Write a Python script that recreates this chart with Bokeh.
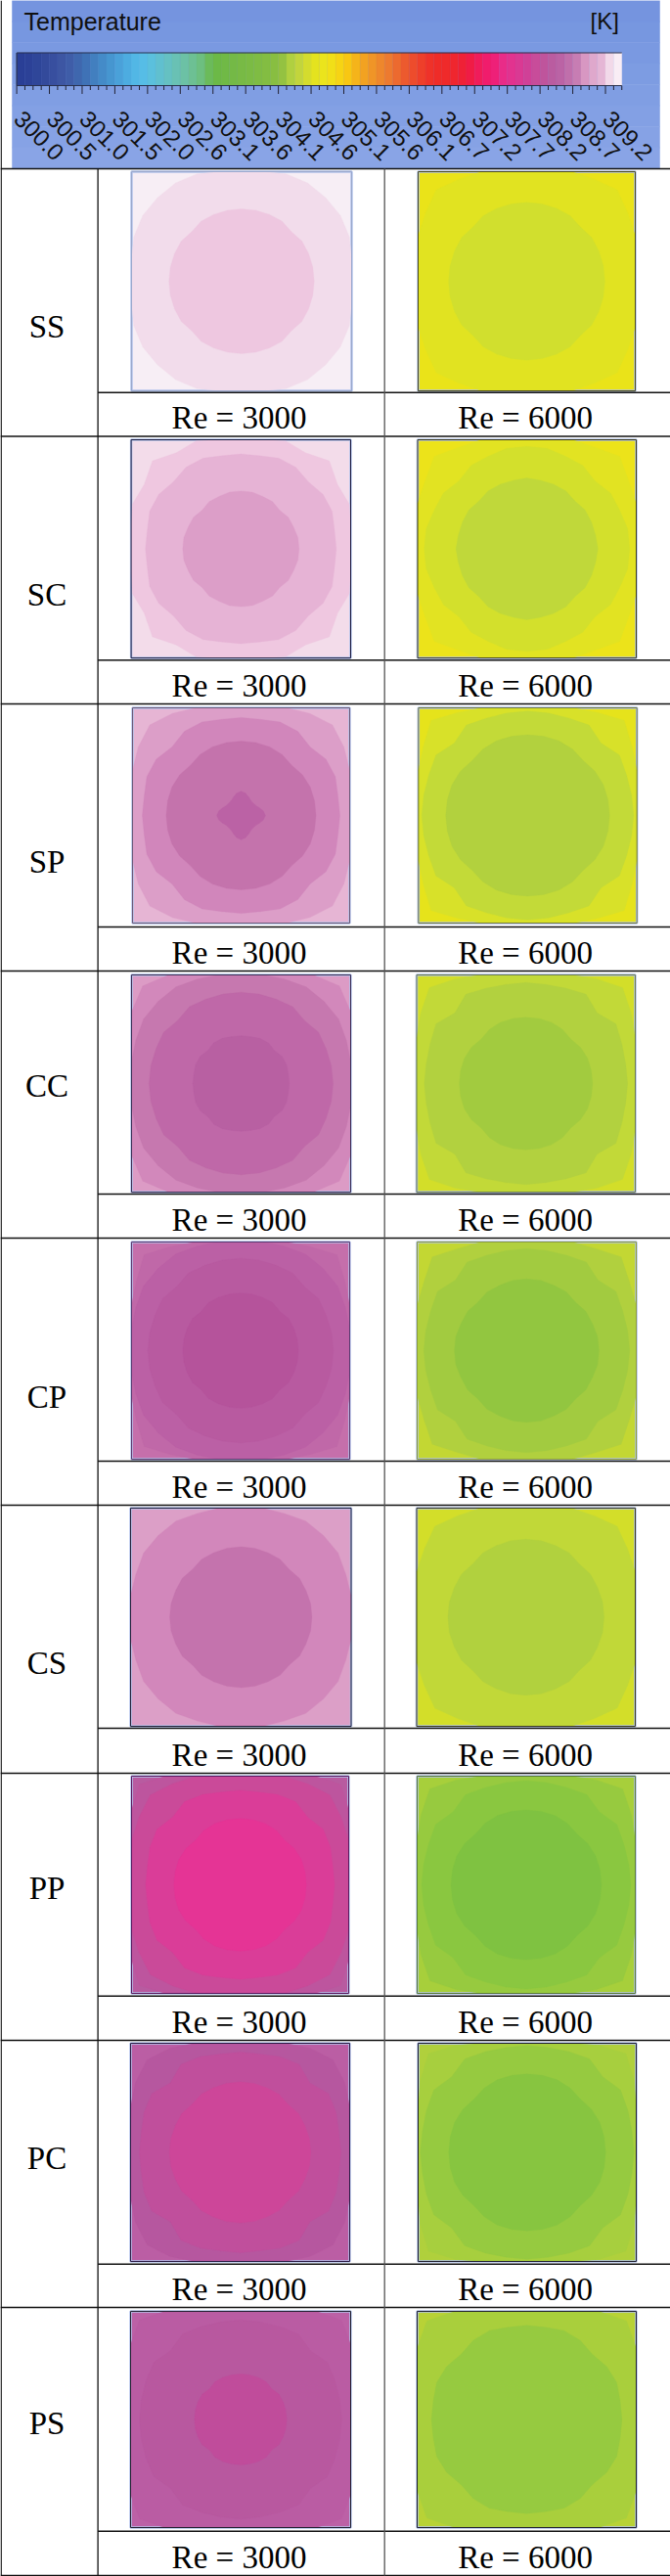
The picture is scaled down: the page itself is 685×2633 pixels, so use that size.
import numpy as np
from bokeh.plotting import figure
from bokeh.core.properties import value
from bokeh.embed import file_html
from bokeh.resources import INLINE

# ---------- colour scale ----------
TITLE = "Temperature"
UNIT = "[K]"
TICK_LABELS = ["300.0","300.5","301.0","301.5","302.0","302.6","303.1","303.6","304.1","304.6",
               "305.1","305.6","306.1","306.7","307.2","307.7","308.2","308.7","309.2"]
BAR_COLORS = ["#2a3f96","#2c4197","#2f4699","#334a9b","#384f9f","#3d56a3","#3f5da8","#3f67ae","#3f72b6","#427fbf",
              "#448bc8","#4696d0","#4aa1d9","#4dace0","#52b7e5","#56bde6","#5bc0dd","#60c0cf","#65c1c2","#69c1b4",
              "#6cc1a5","#6dc094","#6dbf80","#6bbb5a","#6cb947","#70b946","#74b946","#78ba45","#7bbb44","#7fbc43",
              "#83bd42","#88be41","#94c241","#b0d040","#c2d53c","#d4dc2e","#e4e31f","#ebe41c","#f1df18","#f6d414",
              "#f8c713","#f5b41a","#f2a221","#f09527","#ee872c","#ed7a2f","#ec6a2f","#ec5a2e","#ed4c2c","#ee3f2a",
              "#ef3229","#ef2c28","#ef2a2a","#ef262e","#ef2136","#f01c45","#f01c5a","#f01c6c","#ee2078","#e92c88",
              "#e2338f","#da3993","#d04097","#c84c9a","#bf549c","#ba5ca0","#bb63a5","#c06fab","#c77db3","#d897c2",
              "#dfa8cc","#e5b6d5","#f2d9e9","#f9edf5"]
HEADER_SHADES = ["#7594df","#7797e0","#7a99e1","#7d9ce2","#809ee3","#83a0e4","#86a2e5","#89a4e6"]

# ---------- table ----------
ROW_NAMES = ["SS","SC","SP","CC","CP","CS","PP","PC","PS"]
RE_LABELS = ["Re = 3000","Re = 6000"]
ROW_TOPS = [172,445.5,719,992,1265,1538,1812,2085,2358,2632]
SUB_LINES = [400.7,674.3,947,1220,1493,1766,2039.7,2313.7,2586.7]
LABEL_CENTRES = [333,607,880,1109,1427,1699,1929,2205,2476]
BOX_TOP = [175,449,723,996,1269,1541,1815,2088,2362]
BOX_BOTTOM = [399,672,943,1218,1491,1764,2037,2311,2583]
BOX_L0 = [134,133.6,135,134,134,133,134,133,133]
BOX_L1 = [359,358,357,358,357,358.5,356,357,358]
BOX_R0 = [427,426.5,427.3,425.5,426,425.5,426,427,426]
BOX_R1 = [649,650,650.7,649,650,649,649,650,650]
EDGE_3000 = ["#9aa8cc","#1c1c40","#6a5a78","#3a2f55","#5a3a70","#20203a","#5a1a60","#2a1a45","#202030"]
EDGE_6000 = ["#4a4a20","#3a3a20","#707a40","#6a7a50","#8a9a40","#3a3a20","#5a7a3a","#202030","#202030"]

# ---------- temperature bands: corner colour, then nested contours ----------
# radii are in half-widths of the square, sampled at 0, 11.25, 22.5, 33.75, 45 degrees
SS_3000_COLORS = ["#f7eef5","#f2dceb","#eec7e0"]
SS_3000_RADII = [[1.1,1.06,1.06,1.08,1.08],[.66,.66,.66,.66,.64]]
SS_6000_COLORS = ["#eae319","#e1e321","#d1df2e"]
SS_6000_RADII = [[1.1,1.1,1.09,1.12,1.18],[.72,.72,.72,.72,.7]]
SC_3000_COLORS = ["#f3dcea","#efc7e0","#e6b3d5","#dc9ec8"]
SC_3000_RADII = [[1.15,1.12,1.07,1.06,1.14],[.87,.87,.9,.9,.87],[.53,.53,.52,.52,.5]]
SC_6000_COLORS = ["#ece31a","#e2e322","#d3e02c","#c0d83a"]
SC_6000_RADII = [[1.1,1.1,1.09,1.12,1.2],[.94,.94,.92,.92,.88],[.65,.64,.64,.64,.62]]
SP_3000_COLORS = ["#e6b5d4","#dc9ec8","#d186bb","#c473ac","#bb62a5"]
SP_3000_RADII = [[1.15,1.1,1.09,1.14,1.19],[.91,.91,.94,.94,.9],[.69,.69,.69,.68,.66],[.225,.21,.185,.165,.16]]
SP_6000_COLORS = ["#e6e31b","#d8e129","#c3da38","#b2d13e"]
SP_6000_RADII = [[1.1,1.1,1.1,1.15,1.25],[.97,.97,.98,1.01,.95],[.75,.75,.75,.74,.72]]
CC_3000_COLORS = ["#dc9bc5","#d288bb","#c678af","#bf68a8","#b860a2"]
CC_3000_RADII = [[1.15,1.15,1.12,1.2,1.27],[1.1,1.05,1.04,1.07,1.07],[.84,.84,.84,.85,.82],[.44,.44,.45,.45,.43]]
CC_6000_COLORS = ["#d3de29","#c2d938","#b2d13f","#a2cb3f"]
CC_6000_RADII = [[1.1,1.1,1.1,1.16,1.25],[.93,.93,.95,.99,.92],[.61,.61,.61,.6,.58]]
CP_3000_COLORS = ["#c56fab","#c068a8","#bb60a5","#b85aa0","#b5539b"]
CP_3000_RADII = [[1.1,1.1,1.1,1.15,1.25],[1.08,1.05,1.04,1.07,1.07],[.85,.85,.85,.86,.83],[.53,.53,.53,.53,.51]]
CP_6000_COLORS = ["#c3d733","#b1d03e","#a2cb40","#92c640"]
CP_6000_RADII = [[1.1,1.1,1.09,1.13,1.22],[.94,.94,.95,.98,.92],[.66,.66,.65,.65,.63]]
CS_3000_COLORS = ["#dc9fc7","#d287bb","#c473ad"]
CS_3000_RADII = [[1.08,1.04,1.03,1.06,1.06],[.645,.645,.64,.64,.62]]
CS_6000_COLORS = ["#d3de29","#c1d838","#b1d13e"]
CS_6000_RADII = [[1.1,1.1,1.09,1.12,1.18],[.715,.715,.71,.71,.69]]
PP_3000_COLORS = ["#b85ba0","#bd559e","#ca4a99","#da3d98","#e53495"]
PP_3000_RADII = [[1.2,1.2,1.2,1.25,1.31],[1.08,1.06,1.08,1.12,1.17],[.87,.87,.9,.92,.88],[.61,.61,.61,.6,.58]]
PP_6000_COLORS = ["#a7cf3b","#97ca3f","#8ac740","#7fc241"]
PP_6000_RADII = [[1.1,1.1,1.1,1.16,1.25],[.96,.96,.97,1.0,.95],[.69,.69,.69,.68,.66]]
PC_3000_COLORS = ["#bb5ea4","#b6579f","#c04f9c","#cd4699"]
PC_3000_RADII = [[1.1,1.1,1.1,1.15,1.2],[.92,.92,.95,.97,.9],[.645,.645,.64,.64,.62]]
PC_6000_COLORS = ["#b0d03c","#a7cf3e","#96ca40","#87c540"]
PC_6000_RADII = [[1.1,1.1,1.12,1.18,1.28],[.98,.98,1.0,1.03,.98],[.72,.72,.72,.71,.69]]
PS_3000_COLORS = ["#bc61a6","#ba5ca3","#b8589f","#c04c9b"]
PS_3000_RADII = [[1.2,1.2,1.2,1.25,1.3],[.92,.92,.93,.95,.9],[.42,.42,.42,.42,.40]]
PS_6000_COLORS = ["#b8d236","#a9cf3c","#96ca40"]
PS_6000_RADII = [[1.12,1.12,1.15,1.2,1.29],[.87,.87,.89,.88,.85]]

PANEL_COLORS = [[SS_3000_COLORS,SS_6000_COLORS],[SC_3000_COLORS,SC_6000_COLORS],[SP_3000_COLORS,SP_6000_COLORS],
                [CC_3000_COLORS,CC_6000_COLORS],[CP_3000_COLORS,CP_6000_COLORS],[CS_3000_COLORS,CS_6000_COLORS],
                [PP_3000_COLORS,PP_6000_COLORS],[PC_3000_COLORS,PC_6000_COLORS],[PS_3000_COLORS,PS_6000_COLORS]]
PANEL_RADII = [[SS_3000_RADII,SS_6000_RADII],[SC_3000_RADII,SC_6000_RADII],[SP_3000_RADII,SP_6000_RADII],
               [CC_3000_RADII,CC_6000_RADII],[CP_3000_RADII,CP_6000_RADII],[CS_3000_RADII,CS_6000_RADII],
               [PP_3000_RADII,PP_6000_RADII],[PC_3000_RADII,PC_6000_RADII],[PS_3000_RADII,PS_6000_RADII]]

# ---------- drawing ----------
W, H = 685, 2633
p = figure(width=W, height=H, x_range=(0, W), y_range=(H, 0),
           output_backend="svg", toolbar_location=None, min_border=0)
p.axis.visible = False
p.grid.visible = False
p.outline_line_color = None
p.background_fill_color = "white"
p.border_fill_color = "white"

# header
HEAD_X0, HEAD_X1, HEAD_H = 12, 674, 172
n = len(HEADER_SHADES)
p.quad(left=HEAD_X0, right=HEAD_X1,
       top=[HEAD_H * i / n for i in range(n)], bottom=[HEAD_H * (i + 1) / n for i in range(n)],
       fill_color=HEADER_SHADES, line_color=HEADER_SHADES, line_width=0.5)

SERIF = value("Liberation Serif")
SANS = value("Liberation Sans")
p.text([24], [21], [TITLE], text_font=SANS, text_font_size="25px", text_color="#101010",
       text_baseline="middle")
p.text([603], [21], [UNIT], text_font=SANS, text_font_size="24px", text_color="#101010",
       text_baseline="middle")

# colour bar
BAR_X0, STEP = 16.6, 8.36
xs = BAR_X0 + STEP * np.arange(len(BAR_COLORS) + 1)
p.quad(left=xs[:-1], right=xs[1:], top=53.5, bottom=87, fill_color=BAR_COLORS, line_color=BAR_COLORS, line_width=0.3)
p.segment(x0=[xs[0], xs[0], xs[0]], y0=[53.5, 87, 53.5], x1=[xs[-1], xs[-1], xs[0]], y1=[53.5, 87, 87],
          line_color="#2a3350", line_width=1.2)
tick_len = [95.5 if i % 4 == 0 else 91.5 for i in range(len(xs))]
p.segment(x0=xs, y0=87, x1=xs, y1=tick_len, line_color="#222233", line_width=1)
p.text(xs[0] + 4 * STEP * np.arange(len(TICK_LABELS)) + 23, 138, TICK_LABELS, angle=-np.pi / 4,
       text_font=SANS, text_font_size="24px", text_color="#101010", text_align="center", text_baseline="middle")

# panels
ANGLES = np.deg2rad(np.arange(0, 360, 11.25))
def contour(radii, cx, cy, hx, hy):
    out_x, out_y = [], []
    for k, t in enumerate(ANGLES):
        a = k % 8
        idx = a if a <= 4 else 8 - a
        r = radii[idx]
        out_x.append(cx + hx * np.clip(r * np.cos(t), -1, 1))
        out_y.append(cy + hy * np.clip(r * np.sin(t), -1, 1))
    return out_x, out_y

for i in range(len(ROW_NAMES)):
    y0, y1 = BOX_TOP[i], BOX_BOTTOM[i]
    for j, (x0, x1, edge) in enumerate([(BOX_L0[i], BOX_L1[i], EDGE_3000[i]), (BOX_R0[i], BOX_R1[i], EDGE_6000[i])]):
        cols, radii = PANEL_COLORS[i][j], PANEL_RADII[i][j]
        cx, cy, hx, hy = (x0 + x1) / 2, (y0 + y1) / 2, (x1 - x0) / 2, (y1 - y0) / 2
        p.quad(left=[x0], right=[x1], top=[y0], bottom=[y1], fill_color=cols[0],
               line_color="#b4c4ec", line_width=2.5)
        for col, rad in zip(cols[1:], radii):
            px, py = contour(rad, cx, cy, hx, hy)
            p.patch(px, py, fill_color=col, line_color=col, line_width=0.3)
        p.quad(left=[x0], right=[x1], top=[y0], bottom=[y1], fill_color=None, line_color=edge, line_width=1)

# grid lines of the table
p.segment(x0=[0] * len(ROW_TOPS), y0=ROW_TOPS, x1=[685] * len(ROW_TOPS), y1=ROW_TOPS, line_color="#111111", line_width=1.5)
p.segment(x0=[99.6] * len(SUB_LINES), y0=SUB_LINES, x1=[685] * len(SUB_LINES), y1=SUB_LINES, line_color="#111111", line_width=1.5)
p.segment(x0=[99.6, 392.7, 0.7, 0.7], y0=[172, 172, 0, 172], x1=[99.6, 392.7, 0.7, 0.7], y1=[2632, 2632, 172, 2632],
          line_color=["#111111", "#555555", "#111111", "#111111"], line_width=1.3)

# text of the table
p.text([47.5] * len(ROW_NAMES), LABEL_CENTRES, ROW_NAMES, text_font=SERIF, text_font_size="33px", text_color="#000000",
       text_align="center", text_baseline="middle")
for bottom in ROW_TOPS[1:]:
    p.text([244, 536.6], [bottom - 19] * 2, RE_LABELS, text_font=SERIF, text_font_size="33px", text_color="#000000",
           text_align="center", text_baseline="middle")

open("out.html", "w").write(file_html(p, INLINE))
